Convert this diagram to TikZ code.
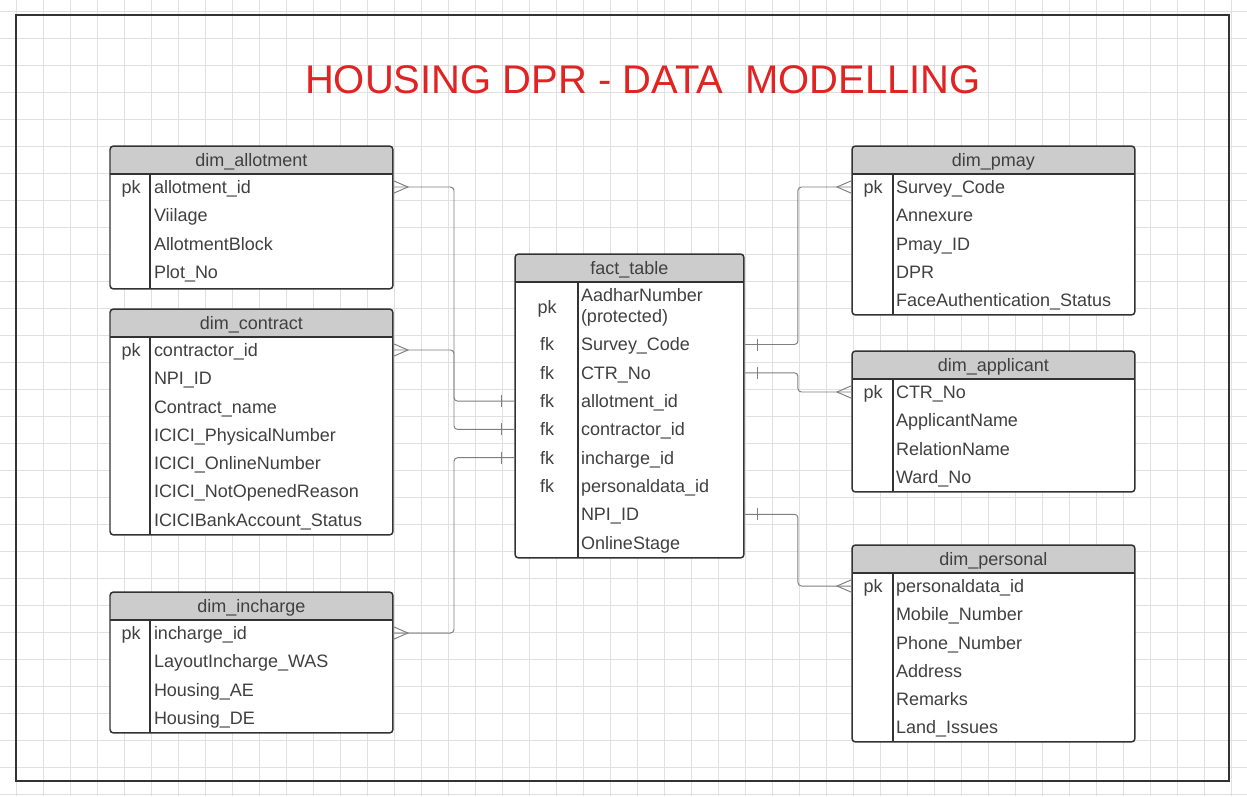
\documentclass[tikz,border=0pt]{standalone}
\usepackage{fontspec}
\setmainfont{Liberation Sans}
\definecolor{hdrgray}{HTML}{CCCCCC}
\definecolor{edge}{HTML}{333333}
\definecolor{ink}{HTML}{404040}
\definecolor{wire}{HTML}{7F7F7F}
\definecolor{gridline}{HTML}{E0E0E0}
\definecolor{titlered}{HTML}{E02424}
\begin{document}
\begin{tikzpicture}[
    x=0.02cm, y=-0.02cm,
    tbl/.style={draw=edge, fill=white, line width=0.85pt, rounded corners=2pt, anchor=north west, inner sep=0pt, outer sep=0pt, minimum width=5.66cm,
        path picture={\fill[hdrgray] (path picture bounding box.north west) rectangle ([yshift=-0.56cm]path picture bounding box.north east);}},
    txt/.style={inner sep=0pt, outer sep=0pt, text=ink, font=\fontsize{10.24}{11.4}\selectfont},
    hdr/.style={txt, anchor=north, text height=7.33pt, text depth=0pt, minimum width=5.66cm, minimum height=0.56cm},
    field/.style={txt, anchor=west, text height=7.33pt, text depth=0pt},
    key/.style={field, anchor=center},
    rule/.style={draw=edge, line width=0.85pt},
    conn/.style={draw=wire, line width=0.55pt, rounded corners=2pt},
    foot/.style={draw=wire, line width=0.55pt},
]
\useasboundingbox (0,0) rectangle (1247,796);
\fill[white] (0,0) rectangle (1247,796);
\draw[gridline, line width=0.5pt] \foreach \k in {0,...,45} {(16+27*\k,0) -- (16+27*\k,796)};
\draw[gridline, line width=0.5pt] \foreach \k in {0,...,29} {(0,11+27*\k) -- (1247,11+27*\k)};
\draw[edge, line width=0.85pt] (16,15) rectangle (1229,781);

\node[txt, anchor=base, text=titlered, font=\fontsize{22.75}{27}\selectfont] (title) at (643,93) {HOUSING DPR - DATA~~MODELLING};

\node[tbl, minimum height=2.86cm] (al) at (110,146) {};
\node[hdr] (al-h) at (al.north) {dim\_allotment};
\draw[rule] (al-h.south west) -- (al-h.south east);
\draw[rule] ([xshift=0.8cm]al-h.south west) -- ([xshift=0.8cm]al.south west);
\node[key] (al-k) at (131,187) {pk};
\foreach \fname [count=\i from 0] in {allotment\_id, Viilage, AllotmentBlock, Plot\_No}
    \node[field] (al-\the\numexpr\i+1\relax) at (154,187+28.3*\i) {\fname};

\node[tbl, minimum height=4.52cm] (co) at (110,309) {};
\node[hdr] (co-h) at (co.north) {dim\_contract};
\draw[rule] (co-h.south west) -- (co-h.south east);
\draw[rule] ([xshift=0.8cm]co-h.south west) -- ([xshift=0.8cm]co.south west);
\node[key] (co-k) at (131,350) {pk};
\foreach \fname [count=\i from 0] in {contractor\_id, NPI\_ID, Contract\_name, ICICI\_PhysicalNumber, ICICI\_OnlineNumber, ICICI\_NotOpenedReason, ICICIBankAccount\_Status}
    \node[field] (co-\the\numexpr\i+1\relax) at (154,350+28.3*\i) {\fname};

\node[tbl, minimum height=2.82cm] (in) at (110,592) {};
\node[hdr] (in-h) at (in.north) {dim\_incharge};
\draw[rule] (in-h.south west) -- (in-h.south east);
\draw[rule] ([xshift=0.8cm]in-h.south west) -- ([xshift=0.8cm]in.south west);
\node[key] (in-k) at (131,633) {pk};
\foreach \fname [count=\i from 0] in {incharge\_id, LayoutIncharge\_WAS, Housing\_AE, Housing\_DE}
    \node[field] (in-\the\numexpr\i+1\relax) at (154,633+28.3*\i) {\fname};

\node[tbl, minimum width=4.58cm, minimum height=6.08cm] (fa) at (515,254) {};
\node[hdr, minimum width=4.58cm] (fa-h) at (fa.north) {fact\_table};
\draw[rule] (fa-h.south west) -- (fa-h.south east);
\draw[rule] ([xshift=1.26cm]fa-h.south west) -- ([xshift=1.26cm]fa.south west);
\node[key] (fa-k1) at (547,307) {pk};
\node[txt, anchor=base west, align=left] (fa-1) at (581,322) {AadharNumber\\(protected)};
\foreach \fname [count=\i from 0] in {Survey\_Code, CTR\_No, allotment\_id, contractor\_id, incharge\_id, personaldata\_id, NPI\_ID, OnlineStage}
    \node[field] (fa-\the\numexpr\i+2\relax) at (581,344.5+28.3*\i) {\fname};
\foreach \i in {0,...,5}
    \node[key] (fa-k\the\numexpr\i+2\relax) at (547,344.5+28.3*\i) {fk};

\node[tbl, minimum height=3.38cm] (pm) at (852,146) {};
\node[hdr] (pm-h) at (pm.north) {dim\_pmay};
\draw[rule] (pm-h.south west) -- (pm-h.south east);
\draw[rule] ([xshift=0.82cm]pm-h.south west) -- ([xshift=0.82cm]pm.south west);
\node[key] (pm-k) at (873,187) {pk};
\foreach \fname [count=\i from 0] in {Survey\_Code, Annexure, Pmay\_ID, DPR, FaceAuthentication\_Status}
    \node[field] (pm-\the\numexpr\i+1\relax) at (896,187+28.3*\i) {\fname};

\node[tbl, minimum height=2.82cm] (ap) at (852,351) {};
\node[hdr] (ap-h) at (ap.north) {dim\_applicant};
\draw[rule] (ap-h.south west) -- (ap-h.south east);
\draw[rule] ([xshift=0.82cm]ap-h.south west) -- ([xshift=0.82cm]ap.south west);
\node[key] (ap-k) at (873,392) {pk};
\foreach \fname [count=\i from 0] in {CTR\_No, ApplicantName, RelationName, Ward\_No}
    \node[field] (ap-\the\numexpr\i+1\relax) at (896,392+28.3*\i) {\fname};

\node[tbl, minimum height=3.94cm] (pe) at (852,545) {};
\node[hdr] (pe-h) at (pe.north) {dim\_personal};
\draw[rule] (pe-h.south west) -- (pe-h.south east);
\draw[rule] ([xshift=0.82cm]pe-h.south west) -- ([xshift=0.82cm]pe.south west);
\node[key] (pe-k) at (873,586) {pk};
\foreach \fname [count=\i from 0] in {personaldata\_id, Mobile\_Number, Phone\_Number, Address, Remarks, Land\_Issues}
    \node[field] (pe-\the\numexpr\i+1\relax) at (896,586+28.3*\i) {\fname};

\draw[conn] (fa-4 -| fa.west) -- ++(-61,0) |- (al-1 -| al.east);
\draw[conn] (fa-5 -| fa.west) -- ++(-61,0) |- (co-1 -| co.east);
\draw[conn] (fa-6 -| fa.west) -- ++(-61,0) |- (in-1 -| in.east);
\draw[conn] (fa-2 -| fa.east) -- ++(54,0) |- (pm-1 -| pm.west);
\draw[conn] (fa-3 -| fa.east) -- ++(54,0) |- (ap-1 -| ap.west);
\draw[conn] (fa-8 -| fa.east) -- ++(54,0) |- (pe-1 -| pe.west);

\draw[foot] (al-1 -| al.east) ++(0,-6.5) -- ++(15,6.5) -- ++(-15,6.5);
\draw[foot] (co-1 -| co.east) ++(0,-6.5) -- ++(15,6.5) -- ++(-15,6.5);
\draw[foot] (in-1 -| in.east) ++(0,-6.5) -- ++(15,6.5) -- ++(-15,6.5);
\draw[foot] (pm-1 -| pm.west) ++(0,-6.5) -- ++(-15,6.5) -- ++(15,6.5);
\draw[foot] (ap-1 -| ap.west) ++(0,-6.5) -- ++(-15,6.5) -- ++(15,6.5);
\draw[foot] (pe-1 -| pe.west) ++(0,-6.5) -- ++(-15,6.5) -- ++(15,6.5);
\draw[foot] (fa-4 -| fa.west) ++(-14,-6) -- ++(0,12);
\draw[foot] (fa-5 -| fa.west) ++(-14,-6) -- ++(0,12);
\draw[foot] (fa-6 -| fa.west) ++(-14,-6) -- ++(0,12);
\draw[foot] (fa-2 -| fa.east) ++(14,-6) -- ++(0,12);
\draw[foot] (fa-3 -| fa.east) ++(14,-6) -- ++(0,12);
\draw[foot] (fa-8 -| fa.east) ++(14,-6) -- ++(0,12);
\end{tikzpicture}
\end{document}
